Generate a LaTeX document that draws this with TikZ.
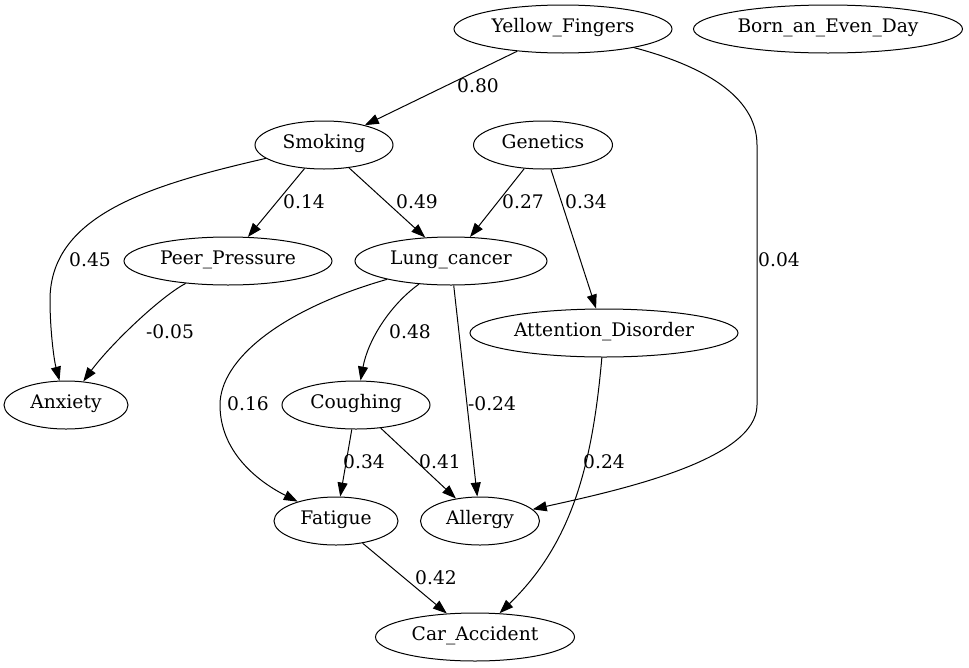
\documentclass[tikz,border=0pt]{standalone}
\usepackage{fontspec}
\setmainfont{DejaVu Serif}
\usetikzlibrary{shapes.geometric,arrows.meta}

\begin{document}
\begin{tikzpicture}[
x=1pt, y=-1pt,
font=\fontsize{18.67}{22}\selectfont,
factor/.style={ellipse, draw=black, line width=1pt, inner sep=0pt, minimum height=48pt, text height=0.9em, text depth=0.23em},
link/.style={draw=black, line width=1pt, -{Triangle[length=14pt, width=10pt]}},
weight/.style={inner sep=0pt},
]
\useasboundingbox (0,0) rectangle (969,667);
%Nodes
\node[factor, minimum width=218pt] (yellow_fingers)     at (563,29)  {Yellow\_Fingers};
\node[factor, minimum width=269pt] (born_even_day)      at (828,29)  {Born\_an\_Even\_Day};
\node[factor, minimum width=138pt] (smoking)            at (324,145) {Smoking};
\node[factor, minimum width=139pt] (genetics)           at (543,145) {Genetics};
\node[factor, minimum width=208pt] (peer_pressure)      at (228,261) {Peer\_Pressure};
\node[factor, minimum width=192pt] (lung_cancer)        at (451,261) {Lung\_cancer};
\node[factor, minimum width=268pt] (attention_disorder) at (604,333) {Attention\_Disorder};
\node[factor, minimum width=124pt] (anxiety)            at (66,405)  {Anxiety};
\node[factor, minimum width=148pt] (coughing)           at (356,405) {Coughing};
\node[factor, minimum width=124pt] (fatigue)            at (336,521) {Fatigue};
\node[factor, minimum width=119pt] (allergy)            at (480,521) {Allergy};
\node[factor, minimum width=199pt] (car_accident)       at (475,637) {Car\_Accident};

%Weights
\node[weight] (w_yf_sm) at (478,86)  {0.80};
\node[weight] (w_yf_al) at (779,260) {0.04};
\node[weight] (w_sm_an) at (90,260)  {0.45};
\node[weight] (w_sm_pp) at (304,202) {0.14};
\node[weight] (w_sm_lc) at (417,202) {0.49};
\node[weight] (w_ge_lc) at (523,202) {0.27};
\node[weight] (w_ge_ad) at (586,202) {0.34};
\node[weight] (w_pp_an) at (170,332) {-0.05};
\node[weight] (w_lc_fa) at (248,404) {0.16};
\node[weight] (w_lc_co) at (410,332) {0.48};
\node[weight] (w_lc_al) at (492,404) {-0.24};
\node[weight] (w_ad_ca) at (604,462) {0.24};
\node[weight] (w_co_fa) at (364,462) {0.34};
\node[weight] (w_co_al) at (440,462) {0.41};
\node[weight] (w_fa_ca) at (436,578) {0.42};

%Lines
\draw[link] (yellow_fingers) -- (smoking);
\draw[link] (yellow_fingers) .. controls (700,65) and (757,95) .. (757,145) -- (757,405) .. controls (757,460) and (620,490) .. (allergy);
\draw[link] (smoking) .. controls (150,185) and (50,215) .. (50,300) .. controls (50,330) and (54,360) .. (anxiety);
\draw[link] (smoking) -- (peer_pressure);
\draw[link] (smoking) -- (lung_cancer);
\draw[link] (genetics) -- (lung_cancer);
\draw[link] (genetics) -- (attention_disorder);
\draw[link] (peer_pressure) .. controls (160,297) and (110,345) .. (anxiety);
\draw[link] (lung_cancer) .. controls (280,310) and (220,360) .. (220,405) .. controls (220,450) and (255,480) .. (fatigue);
\draw[link] (lung_cancer) .. controls (390,305) and (368,340) .. (coughing);
\draw[link] (lung_cancer) -- (allergy);
\draw[link] (attention_disorder) .. controls (592,470) and (570,545) .. (car_accident);
\draw[link] (coughing) -- (fatigue);
\draw[link] (coughing) -- (allergy);
\draw[link] (fatigue) -- (car_accident);

\end{tikzpicture}
\end{document}
